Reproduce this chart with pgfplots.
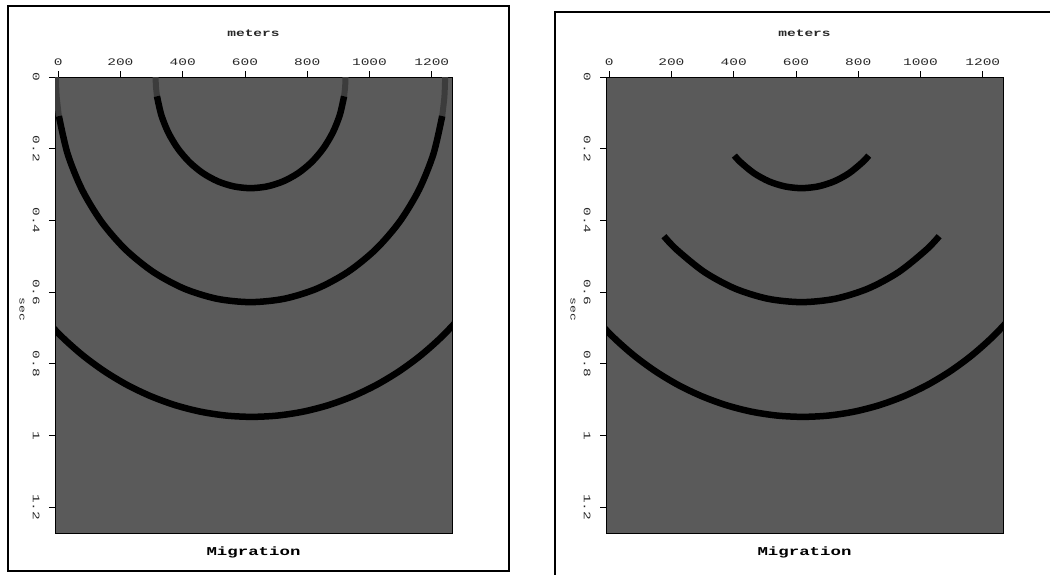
\documentclass[border=0pt]{standalone}
\usepackage{pgfplots}
\pgfplotsset{compat=1.18}
\usepackage{fontspec}
\newfontfamily\sufont[FakeStretch=1.45]{Liberation Mono}
\definecolor{bg}{RGB}{90,90,90}
\definecolor{fade}{RGB}{60,60,60}
\definecolor{txt}{RGB}{40,40,40}

\pgfplotsset{sustyle/.style={
  scale only axis, width=397pt, height=456pt,
  xmin=-10, xmax=1265, ymin=0, ymax=1.272, y dir=reverse,
  axis background/.style={fill=bg},
  axis line style={line width=0.8pt, black},
  xtick={0,200,400,600,800,1000,1200},
  ytick={0,0.2,0.4,0.6,0.8,1,1.2},
  xtick pos=top, xticklabel pos=upper,
  ytick pos=left,
  tick align=outside, major tick length=6pt,
  tick style={black, line width=0.8pt},
  /pgf/number format/assume math mode=true,
  /pgf/number format/1000 sep={},
  xticklabel style={font=\sufont\fontsize{10}{12}\selectfont, text=txt, anchor=south, yshift=2pt},
  yticklabel style={font=\sufont\fontsize{10}{12}\selectfont, text=txt, rotate=-90, anchor=north, yshift=-6pt},
  every axis x label/.style={at={(axis description cs:0.5,1)}, anchor=center, yshift=44pt,
     font=\sufont\bfseries\fontsize{10}{12}\selectfont, text=txt},
  every axis y label/.style={at={(axis description cs:0,0.49)}, anchor=center, rotate=-90, yshift=-33pt,
     font=\sufont\fontsize{9}{10}\selectfont, text=txt},
  every axis title/.style={at={(axis description cs:0.5,0)}, anchor=center, yshift=-19pt,
     font=\sufont\bfseries\fontsize{12}{13}\selectfont},
  xlabel={meters}, ylabel={sec}, title={Migration},
  clip=true,
  arc/.style={black, line width=6.5pt, line cap=butt, line join=round, smooth, no marks},
  farc/.style={fade, line width=6pt, line cap=butt, line join=round, smooth, no marks},
}}

\begin{document}
\begin{tikzpicture}
\useasboundingbox (0pt,0pt) rectangle (1050pt,-575pt);
\fill[white] (0pt,0pt) rectangle (1050pt,-575pt);
\draw[line width=1.6pt] (8pt,-6pt) rectangle (509pt,-571pt);
\draw[line width=1.6pt] (555pt,-12pt) rectangle (1062pt,-590pt);

% ---------------- left panel: full-aperture migration ----------------
\begin{axis}[sustyle, at={(55pt,-77pt)}, anchor=north west]
% faint tops
\addplot[farc] coordinates {(923,0) (921.8,0.027) (918.4,0.0538)};
\addplot[farc] coordinates {(313,0) (314.2,0.027) (317.6,0.0538)};
\addplot[farc] coordinates {(1243,0) (1240.6,0.0548) (1233.5,0.109)};
\addplot[farc] coordinates {(-7,0) (-4.6,0.0548) (2.5,0.109)};
% arc 1
\addplot[arc] coordinates {
 (918.4,0.0538) (904.6,0.1060) (882.1,0.155) (851.6,0.1993) (814.1,0.2375)
 (770.5,0.2685) (722.3,0.2913) (670.9,0.3053) (618,0.31)
 (565.1,0.3053) (513.7,0.2913) (465.5,0.2685) (421.9,0.2375) (384.4,0.1993)
 (353.9,0.155) (331.4,0.1060) (317.6,0.0538)};
% arc 2
\addplot[arc] coordinates {
 (1233.5,0.109) (1205.3,0.2148) (1159.3,0.314) (1096.8,0.4037) (1019.8,0.4810)
 (930.5,0.5438) (831.8,0.5901) (726.5,0.6185) (618,0.628)
 (509.5,0.6185) (404.2,0.5901) (305.5,0.5438) (216.2,0.4810) (139.2,0.4037)
 (76.7,0.314) (30.7,0.2148) (2.5,0.109)};
% arc 3
\addplot[arc] coordinates {
 (1346.6,0.6094) (1290.9,0.6703) (1230.1,0.7262) (1164.6,0.7766) (1095,0.8210)
 (1021.8,0.8592) (945.5,0.8908) (866.8,0.9157) (786.3,0.9336) (704.5,0.9444) (622,0.948)
 (539.5,0.9444) (457.7,0.9336) (377.2,0.9157) (298.5,0.8908) (222.2,0.8592)
 (149,0.8210) (79.4,0.7766) (13.9,0.7262) (-46.9,0.6703) (-102.6,0.6094)};
\end{axis}

% ---------------- right panel: limited-aperture migration ----------------
\begin{axis}[sustyle, at={(606pt,-77pt)}, anchor=north west]
% arc 1
\addplot[arc] coordinates {
 (833.7,0.2192) (814.1,0.2375) (770.5,0.2685) (722.3,0.2913) (670.9,0.3053) (618,0.31)
 (565.1,0.3053) (513.7,0.2913) (465.5,0.2685) (421.9,0.2375) (402.3,0.2192)};
% arc 2
\addplot[arc] coordinates {
 (1059.9,0.4441) (1019.8,0.4810) (930.5,0.5438) (831.8,0.5901) (726.5,0.6185) (618,0.628)
 (509.5,0.6185) (404.2,0.5901) (305.5,0.5438) (216.2,0.4810) (176.1,0.4441)};
% arc 3
\addplot[arc] coordinates {
 (1346.6,0.6094) (1290.9,0.6703) (1230.1,0.7262) (1164.6,0.7766) (1095,0.8210)
 (1021.8,0.8592) (945.5,0.8908) (866.8,0.9157) (786.3,0.9336) (704.5,0.9444) (622,0.948)
 (539.5,0.9444) (457.7,0.9336) (377.2,0.9157) (298.5,0.8908) (222.2,0.8592)
 (149,0.8210) (79.4,0.7766) (13.9,0.7262) (-46.9,0.6703) (-102.6,0.6094)};
\end{axis}
\end{tikzpicture}
\end{document}
